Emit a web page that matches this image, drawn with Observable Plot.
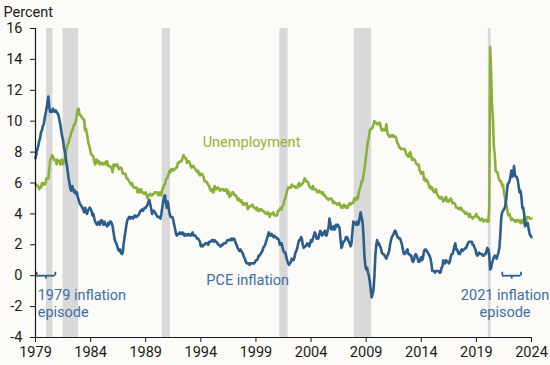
<!DOCTYPE html>
<html>
<head>
<meta charset="utf-8">
<script src="https://cdn.jsdelivr.net/npm/d3@7"></script>
<script src="https://cdn.jsdelivr.net/npm/@observablehq/plot@0.6"></script>
<style>
  html, body { margin: 0; padding: 0; background: #fcfbf7; }
  #chart svg { display: block; font-family: Roboto, "Noto Sans", sans-serif; }
</style>
</head>
<body>
<div id="chart"></div>
<script>
// Monthly series, starting January 1979
const startYear = 1979;

const unemployment = [
  5.9,5.9,5.8,5.8,5.6,5.7,5.7,6.0,5.9,6.0,5.9,6.0,
  6.3,6.3,6.3,6.9,7.5,7.6,7.8,7.7,7.5,7.5,7.5,7.2,
  7.5,7.4,7.4,7.2,7.5,7.5,7.2,7.4,7.6,7.9,8.3,8.5,
  8.6,8.9,9.0,9.3,9.4,9.6,9.8,9.8,10.1,10.4,10.8,10.8,
  10.4,10.4,10.3,10.2,10.1,10.1,9.4,9.5,9.2,8.8,8.5,8.3,
  8.0,7.8,7.8,7.7,7.4,7.2,7.5,7.5,7.3,7.4,7.2,7.3,
  7.3,7.2,7.2,7.3,7.2,7.4,7.4,7.1,7.1,7.1,7.0,7.0,
  6.7,7.2,7.2,7.1,7.2,7.2,7.0,6.9,7.0,7.0,6.9,6.6,
  6.6,6.6,6.6,6.3,6.3,6.2,6.1,6.0,5.9,6.0,5.8,5.7,
  5.7,5.7,5.7,5.4,5.6,5.4,5.4,5.6,5.4,5.4,5.3,5.3,
  5.4,5.2,5.0,5.2,5.2,5.3,5.2,5.2,5.3,5.3,5.4,5.4,
  5.4,5.3,5.2,5.4,5.4,5.2,5.5,5.7,5.9,5.9,6.2,6.3,
  6.4,6.6,6.8,6.7,6.9,6.9,6.8,6.9,6.9,7.0,7.0,7.3,
  7.3,7.4,7.4,7.4,7.6,7.8,7.7,7.6,7.6,7.3,7.4,7.4,
  7.3,7.1,7.0,7.1,7.1,7.0,6.9,6.8,6.7,6.8,6.6,6.5,
  6.6,6.6,6.5,6.4,6.1,6.1,6.1,6.0,5.9,5.8,5.6,5.5,
  5.6,5.4,5.4,5.8,5.6,5.6,5.7,5.7,5.6,5.5,5.6,5.6,
  5.6,5.5,5.5,5.6,5.6,5.3,5.5,5.1,5.2,5.2,5.4,5.4,
  5.3,5.2,5.2,5.1,4.9,5.0,4.9,4.8,4.9,4.7,4.6,4.7,
  4.6,4.6,4.7,4.3,4.4,4.5,4.5,4.5,4.6,4.5,4.4,4.4,
  4.3,4.4,4.2,4.3,4.2,4.3,4.3,4.2,4.2,4.1,4.1,4.0,
  4.0,4.1,4.0,3.8,4.0,4.0,4.0,4.1,3.9,3.9,3.9,3.9,
  4.2,4.2,4.3,4.4,4.3,4.5,4.6,4.9,5.0,5.3,5.5,5.7,
  5.7,5.7,5.7,5.9,5.8,5.8,5.8,5.7,5.7,5.7,5.9,6.0,
  5.8,5.9,5.9,6.0,6.1,6.3,6.2,6.1,6.1,6.0,5.8,5.7,
  5.7,5.6,5.8,5.6,5.6,5.6,5.5,5.4,5.4,5.5,5.4,5.4,
  5.3,5.4,5.2,5.2,5.1,5.0,5.0,4.9,5.0,5.0,5.0,4.9,
  4.7,4.8,4.7,4.7,4.6,4.6,4.7,4.7,4.5,4.4,4.5,4.4,
  4.6,4.5,4.4,4.5,4.4,4.6,4.7,4.6,4.7,4.7,4.7,5.0,
  5.0,4.9,5.1,5.0,5.4,5.6,5.8,6.1,6.1,6.5,6.8,7.3,
  7.8,8.3,8.7,9.0,9.4,9.5,9.5,9.6,9.8,10.0,9.9,9.9,
  9.8,9.8,9.9,9.9,9.6,9.4,9.4,9.5,9.5,9.4,9.8,9.3,
  9.1,9.0,9.0,9.1,9.0,9.1,9.0,9.0,9.0,8.8,8.6,8.5,
  8.3,8.3,8.2,8.2,8.2,8.2,8.2,8.0,7.8,7.8,7.7,7.9,
  8.0,7.7,7.5,7.6,7.5,7.5,7.3,7.2,7.2,7.2,6.9,6.7,
  6.6,6.7,6.7,6.2,6.3,6.1,6.2,6.1,5.9,5.7,5.8,5.6,
  5.7,5.5,5.4,5.4,5.6,5.3,5.2,5.1,5.0,5.0,5.1,5.0,
  4.8,4.9,5.0,5.1,4.8,4.9,4.8,4.9,5.0,4.9,4.7,4.7,
  4.7,4.6,4.4,4.4,4.4,4.3,4.3,4.4,4.3,4.2,4.2,4.1,
  4.0,4.1,4.0,4.0,3.8,4.0,3.8,3.8,3.7,3.8,3.8,3.9,
  4.0,3.8,3.8,3.7,3.6,3.6,3.7,3.6,3.5,3.6,3.6,3.6,
  3.5,3.5,4.4,14.8,13.2,11.0,10.2,8.4,7.8,6.8,6.7,6.7,
  6.4,6.2,6.1,6.1,5.8,5.9,5.4,5.1,4.7,4.5,4.1,3.9,
  4.0,3.8,3.6,3.7,3.6,3.6,3.5,3.6,3.5,3.6,3.6,3.5,
  3.4,3.6,3.5,3.4,3.7,3.6,3.5,3.8,3.8,3.8,3.7,3.7,
  3.7
];

const pceInflation = [
  7.6,7.9,8.2,8.4,8.7,8.9,9.3,9.4,9.7,9.8,10.2,10.5,
  10.8,11.2,11.6,10.9,10.6,10.7,10.6,10.8,10.7,10.6,10.7,10.6,
  10.5,10.4,10.1,9.8,9.4,9.0,8.8,8.3,8.0,7.6,7.2,6.8,
  6.3,6.0,5.6,5.5,5.8,5.6,5.4,5.5,5.3,5.4,5.1,4.9,
  4.7,4.6,4.5,4.4,4.3,4.1,4.4,4.2,4.0,4.2,4.3,4.4,
  4.3,4.2,3.9,4.0,3.7,3.5,3.4,3.3,3.4,3.5,3.3,3.5,
  3.6,3.4,3.3,3.5,3.3,3.3,3.2,3.4,3.3,3.5,3.5,3.4,
  3.2,2.8,2.4,2.2,2.1,1.9,1.7,1.6,1.7,1.5,1.4,1.5,
  2.1,2.5,2.9,3.3,3.6,3.7,3.8,3.7,3.8,3.8,3.7,3.8,
  3.9,3.8,3.8,3.9,3.9,4.0,4.2,4.2,4.3,4.2,4.3,4.4,
  4.4,4.5,4.6,4.8,4.9,4.6,4.3,4.0,4.2,4.2,4.1,4.0,
  3.9,3.8,3.8,3.8,3.7,4.0,4.4,4.8,5.1,5.2,4.7,4.4,
  4.8,4.4,4.0,3.8,3.8,3.8,3.6,3.3,3.0,2.7,2.6,2.7,
  2.7,2.8,2.7,2.7,2.8,2.7,2.6,2.7,2.6,2.6,2.7,2.7,
  2.6,2.6,2.7,2.8,2.6,2.6,2.6,2.5,2.4,2.4,2.3,2.2,
  1.9,2.0,1.9,2.0,2.0,2.1,2.1,2.1,2.0,2.2,2.2,2.2,
  2.3,2.3,2.2,2.3,2.2,2.2,2.1,2.0,2.0,1.9,1.9,2.0,
  2.0,2.1,2.1,2.1,2.2,2.3,2.3,2.3,2.3,2.4,2.3,2.4,
  2.4,2.3,2.1,2.0,1.8,1.7,1.6,1.7,1.6,1.5,1.4,1.2,
  1.1,0.9,0.8,0.8,0.8,0.7,0.8,0.8,0.8,0.8,0.8,0.9,
  1.0,1.0,1.1,1.3,1.3,1.4,1.5,1.6,1.8,1.9,2.0,2.2,
  2.4,2.6,2.8,2.6,2.6,2.7,2.6,2.5,2.6,2.5,2.5,2.4,
  2.4,2.3,2.0,2.1,2.1,1.8,1.6,1.5,1.5,1.2,1.0,0.8,
  0.7,0.8,0.9,1.1,1.0,1.0,1.2,1.5,1.6,1.8,2.1,2.3,
  2.3,2.5,2.4,2.0,1.8,1.9,1.9,2.0,2.1,2.0,1.9,2.1,
  2.3,2.2,2.4,2.6,2.8,2.7,2.4,2.4,2.4,2.7,2.9,2.8,
  2.6,2.7,2.8,2.9,2.6,2.6,2.9,3.1,3.7,3.4,3.0,3.0,
  3.2,3.0,3.0,3.3,3.2,3.3,3.2,3.1,2.4,1.8,1.9,2.2,
  2.2,2.3,2.5,2.5,2.4,2.2,2.1,1.9,2.1,2.8,3.5,3.4,
  3.4,3.3,3.5,3.3,3.4,3.8,4.1,3.8,3.5,2.7,1.4,0.7,
  0.4,0.5,0.2,0.0,-0.4,-0.9,-1.4,-1.2,-0.9,0.0,1.3,2.0,
  2.3,2.0,2.1,1.9,1.8,1.5,1.4,1.4,1.3,1.2,1.1,1.3,
  1.4,1.6,2.0,2.3,2.5,2.6,2.7,2.9,2.9,2.7,2.5,2.5,
  2.4,2.4,2.2,2.0,1.7,1.4,1.4,1.5,1.6,1.7,1.4,1.4,
  1.3,1.3,1.0,0.9,1.0,1.3,1.4,1.3,1.1,0.9,0.9,1.1,
  1.2,1.0,1.2,1.6,1.7,1.7,1.6,1.5,1.4,1.3,1.1,0.8,
  0.3,0.3,0.3,0.2,0.3,0.3,0.3,0.3,0.2,0.2,0.5,0.6,
  1.0,0.8,0.8,1.0,0.9,0.9,0.8,0.9,1.2,1.4,1.4,1.6,
  1.9,2.1,1.7,1.7,1.5,1.4,1.4,1.6,1.7,1.6,1.7,1.7,
  1.8,1.8,2.0,2.1,2.2,2.2,2.2,2.2,2.0,2.0,1.8,1.7,
  1.4,1.3,1.4,1.5,1.4,1.4,1.4,1.3,1.3,1.4,1.4,1.6,
  1.8,1.7,1.3,0.4,0.5,0.8,1.0,1.2,1.3,1.2,1.1,1.3,
  1.5,1.8,2.6,3.7,4.1,4.2,4.3,4.4,4.7,5.3,5.9,6.0,
  6.1,6.4,6.8,6.4,6.5,7.1,6.5,6.4,6.4,6.2,5.8,5.4,
  5.5,5.1,4.4,4.4,4.0,3.2,3.3,3.4,3.4,3.0,2.7,2.6,
  2.5
];

// NBER recessions (start, end as fractional years)
const recessionStart = [1980.0, 1981.5, 1990.5, 2001.167, 2007.917, 2020.083];
const recessionEnd   = [1980.583, 1982.917, 1991.25, 2001.917, 2009.5, 2020.333];

// Inflation episode brackets
const episodeStart = [1979.1, 2021.35];
const episodeEnd   = [1980.8, 2023.05];
const episodeLabels = ["1979 inflation\nepisode", "2021 inflation\nepisode"];
const episodeLabelX = [1979.2, 2021.6];
const episodeLabelY = [-1.75, -1.75];

// Series labels
const seriesLabels = ["Unemployment", "PCE inflation"];
const seriesLabelX = [1998.6, 1998.25];
const seriesLabelY = [8.6, -0.3];

const xTicks = [1979, 1984, 1989, 1994, 1999, 2004, 2009, 2014, 2019, 2024];
const yTicks = [-4, -2, 0, 2, 4, 6, 8, 10, 12, 14, 16];

const blue = "#2c5e8c";
const green = "#8cb03c";
const blueText = "#3d6fa3";
const greenText = "#95b23a";

const unempData = unemployment.map((v, i) => ({t: startYear + i / 12, v}));
const pceData = pceInflation.map((v, i) => ({t: startYear + i / 12, v}));
const recessions = recessionStart.map((s, i) => ({s, e: recessionEnd[i]}));
const episodes = episodeStart.map((s, i) => ({
  s, e: episodeEnd[i], m: (s + episodeEnd[i]) / 2,
  label: episodeLabels[i], lx: episodeLabelX[i], ly: episodeLabelY[i]
}));
const labels = seriesLabels.map((l, i) => ({l, x: seriesLabelX[i], y: seriesLabelY[i]}));

const chart = Plot.plot({
  width: 550,
  height: 365,
  marginLeft: 35,
  marginRight: 19,
  marginTop: 28,
  marginBottom: 28,
  style: {background: "#fcfbf7", fontFamily: "Roboto, sans-serif", fontSize: "14px", color: "#1a1a1a"},
  x: {domain: [1979, 2024]},
  y: {domain: [-4, 16]},
  marks: [
    Plot.rect(recessions, {x1: "s", x2: "e", y1: -4, y2: 16, fill: "#d9d9d9"}),
    Plot.line(unempData, {x: "t", y: "v", stroke: green, strokeWidth: 2.6, strokeLinejoin: "round"}),
    Plot.line(pceData, {x: "t", y: "v", stroke: blue, strokeWidth: 2.6, strokeLinejoin: "round"}),
    // episode brackets
    Plot.ruleY(episodes, {y: () => 0, x1: "s", x2: "e", stroke: blue, strokeWidth: 1.8}),
    Plot.ruleX(episodes, {x: "s", y1: 0, y2: 0.22, stroke: blue, strokeWidth: 1.8}),
    Plot.ruleX(episodes, {x: "e", y1: 0, y2: 0.22, stroke: blue, strokeWidth: 1.8}),
    Plot.ruleX(episodes, {x: "m", y1: 0, y2: -0.22, stroke: blue, strokeWidth: 1.8}),
    Plot.text(episodes.slice(0, 1), {x: "lx", y: "ly", text: "label", fill: blueText, fontSize: 14.5, textAnchor: "start", lineHeight: 1.2}),
    Plot.text(episodes.slice(1), {x: "lx", y: "ly", text: "label", fill: blueText, fontSize: 14.5, textAnchor: "middle", lineHeight: 1.2}),
    Plot.text(labels, {x: "x", y: "y", text: "l", fill: (d) => d.l === "Unemployment" ? greenText : blueText, fontSize: 14.5}),
    Plot.axisY({ticks: yTicks, tickFormat: (d) => String(d), tickSize: 5, tickPadding: 8, fontSize: 14.5, label: null, stroke: "#1a1a1a"}),
    Plot.axisX({ticks: xTicks, tickFormat: (d) => String(d), tickSize: 5, tickPadding: 4, fontSize: 14.5, label: null, stroke: "#1a1a1a"}),
    Plot.ruleX([1979], {stroke: "#1a1a1a", strokeWidth: 1.2}),
    Plot.ruleY([-4], {stroke: "#1a1a1a", strokeWidth: 1.2}),
    Plot.text(["Percent"], {frameAnchor: "top-left", dx: -32, dy: -22, fontSize: 14.5, textAnchor: "start", fill: "#1a1a1a"})
  ]
});

document.getElementById("chart").appendChild(chart);
</script>
</body>
</html>
